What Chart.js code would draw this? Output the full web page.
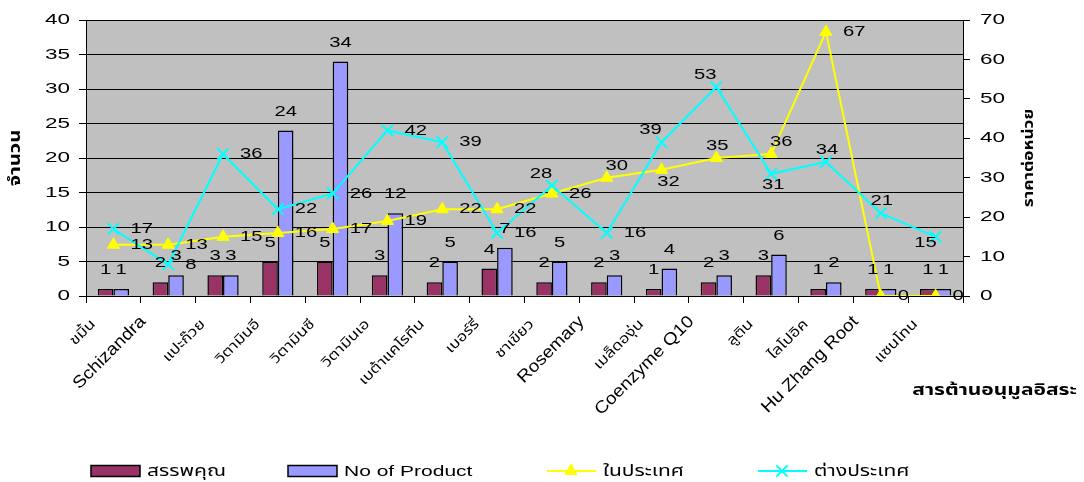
<!DOCTYPE html>
<html>
<head>
<meta charset="utf-8">
<script src="https://cdn.jsdelivr.net/npm/chart.js@4.4.1/dist/chart.umd.min.js"></script>
<style>
  html, body { margin: 0; padding: 0; background: #ffffff; overflow: hidden; }
  canvas { display: block; }
</style>
</head>
<body>
<canvas id="chart" width="1084" height="482"></canvas>
<script>
// Antioxidant supplements: number of claimed benefits, number of products, unit prices
const categories = ['ขมิ้น', 'Schizandra', 'แปะก๊วย', 'วิตามินอี', 'วิตามินซี', 'วิตามินเอ',
  'เบต้าแคโรทีน', 'เบอร์รี่', 'ชาเขียว', 'Rosemary', 'เมล็ดองุ่น', 'Coenzyme Q10',
  'ลูติน', 'ไลโปอิค', 'Hu Zhang Root', 'แซนโทน'];
const benefits       = [1, 2, 3, 5, 5, 3, 2, 4, 2, 2, 1, 2, 3, 1, 1, 1];
const productCounts  = [1, 3, 3, 24, 34, 12, 5, 7, 5, 3, 4, 3, 6, 2, 1, 1];
const domesticPrice  = [13, 13, 15, 16, 17, 19, 22, 22, 26, 30, 32, 35, 36, 67, 0, 0];
const importedPrice  = [17, 8, 36, 22, 26, 42, 39, 16, 28, 16, 39, 53, 31, 34, 21, 15];
const countTicks     = [0, 5, 10, 15, 20, 25, 30, 35, 40];
const priceTicks     = [0, 10, 20, 30, 40, 50, 60, 70];

const seriesNames   = ['สรรพคุณ', 'No of Product', 'ในประเทศ', 'ต่างประเทศ'];
const countTitle    = 'จำนวน';
const priceTitle    = 'ราคาต่อหน่วย';
const categoryTitle = 'สารต้านอนุมูลอิสระ';

// where each price label sits relative to its point
const domesticLabelSpot = ['r','r','r','r','r','r','r','r','r','tr','br','t','tr','r','r','r'];
const importedLabelSpot = ['r','r','r','r','r','r','r','r','tl','r','tl','tl','b','t','t','bl'];

const FONT = "'Liberation Sans', Arial, 'Noto Sans Thai', Tahoma, sans-serif";
const spots = {
  r:  [17, 0, 'left'],
  t:  [1, -12, 'center'],
  b:  [2, 11, 'center'],
  tl: [-11, -12, 'center'],
  tr: [10, -12, 'center'],
  br: [7, 12, 'center'],
  bl: [-10, 6, 'center']
};

// text drawn with a horizontal stretch (wide face)
function wideText(ctx, text, x, y, o) {
  ctx.save();
  ctx.translate(x, y);
  if (o.rotate) ctx.rotate(o.rotate);
  ctx.scale(o.sx || 1, 1);
  ctx.font = o.font;
  ctx.fillStyle = o.color || '#000';
  ctx.textAlign = o.align || 'center';
  ctx.textBaseline = o.baseline || 'middle';
  ctx.fillText(text, 0, 0);
  ctx.restore();
}

const plotBackground = {
  id: 'plotBackground',
  beforeDraw(chart) {
    const { ctx, chartArea: a } = chart;
    ctx.save();
    ctx.fillStyle = '#C0C0C0';
    ctx.fillRect(a.left, a.top, a.right - a.left, a.bottom - a.top);
    ctx.restore();
  }
};

const valueLabels = {
  id: 'valueLabels',
  afterDatasetsDraw(chart) {
    const ctx = chart.ctx;
    const numFont = '15px ' + FONT;
    chart.data.datasets.forEach((ds, di) => {
      const meta = chart.getDatasetMeta(di);
      meta.data.forEach((el, i) => {
        const txt = String(ds.data[i]);
        if (ds.type === 'bar') {
          wideText(ctx, txt, el.x, el.y - 19, { font: numFont, sx: 1.35 });
        } else {
          const s = spots[ds.labelSpots[i]];
          wideText(ctx, txt, el.x + s[0], el.y + s[1], { font: numFont, sx: 1.35, align: s[2] });
        }
      });
    });
  }
};

const axisText = {
  id: 'axisText',
  afterDraw(chart) {
    const ctx = chart.ctx;
    const y = chart.scales.y, y1 = chart.scales.y1, x = chart.scales.x;
    const tickFont = '15px ' + FONT;
    y.ticks.forEach(t => {
      wideText(ctx, String(t.value), 70, y.getPixelForValue(t.value), { font: tickFont, sx: 1.5, align: 'right' });
    });
    y1.ticks.forEach(t => {
      wideText(ctx, String(t.value), 980, y1.getPixelForValue(t.value), { font: tickFont, sx: 1.5, align: 'left' });
    });
    const thai = /[\u0E00-\u0E7F]/;
    categories.forEach((c, i) => {
      const px = x.getPixelForValue(i);
      if (thai.test(c)) {
        wideText(ctx, c, px - 20, 322, { font: '14px ' + FONT, sx: 1.2, align: 'right', rotate: -Math.PI / 4 });
      } else {
        wideText(ctx, c, px - 25, 319, { font: '17px ' + FONT, sx: 1.12, align: 'right', rotate: -Math.PI / 4 });
      }
    });
    wideText(ctx, countTitle, 16, 158, { font: 'bold 15px ' + FONT, sx: 1.35, rotate: -Math.PI / 2 });
    wideText(ctx, priceTitle, 1029, 158, { font: 'bold 14px ' + FONT, sx: 1.24, rotate: -Math.PI / 2 });
    wideText(ctx, categoryTitle, 1077, 391, { font: 'bold 15px ' + FONT, sx: 1.4, align: 'right' });
  }
};

const bottomLegend = {
  id: 'bottomLegend',
  afterDraw(chart) {
    const ctx = chart.ctx;
    const starts = [91, 288, 547, 758];
    const cy = 471;
    chart.data.datasets.forEach((ds, i) => {
      const x0 = starts[i];
      ctx.save();
      if (ds.type === 'bar') {
        ctx.fillStyle = ds.backgroundColor;
        ctx.fillRect(x0, cy - 5.5, 49, 11);
        ctx.strokeStyle = '#000';
        ctx.lineWidth = 1.5;
        ctx.strokeRect(x0, cy - 5.5, 49, 11);
      } else {
        ctx.strokeStyle = ds.borderColor;
        ctx.lineWidth = 2;
        ctx.beginPath();
        ctx.moveTo(x0, cy);
        ctx.lineTo(x0 + 49, cy);
        ctx.stroke();
        ctx.fillStyle = ds.backgroundColor;
        ctx.strokeStyle = ds.borderColor;
        ctx.lineWidth = ds.pointBorderWidth;
        Chart.helpers.drawPoint(ctx, {
          pointStyle: ds.pointStyle, radius: ds.pointRadius, rotation: 0,
          borderWidth: ds.pointBorderWidth
        }, x0 + 24, cy);
      }
      ctx.restore();
      wideText(ctx, ds.label, x0 + 56, cy + 1, { font: '15px ' + FONT, sx: 1.4, align: 'left' });
    });
  }
};

new Chart(document.getElementById('chart'), {
  type: 'bar',
  data: {
    labels: categories,
    datasets: [
      {
        type: 'bar', label: seriesNames[0], data: benefits, yAxisID: 'y', order: 2,
        backgroundColor: '#993366', borderColor: '#000000', borderWidth: 1.5,
        categoryPercentage: 0.57, barPercentage: 1.0
      },
      {
        type: 'bar', label: seriesNames[1], data: productCounts, yAxisID: 'y', order: 2,
        backgroundColor: '#9999FF', borderColor: '#000000', borderWidth: 1.5,
        categoryPercentage: 0.57, barPercentage: 1.0
      },
      {
        type: 'line', label: seriesNames[2], data: domesticPrice, yAxisID: 'y1', order: 1,
        borderColor: '#FFFF00', backgroundColor: '#FFFF00', borderWidth: 2,
        pointStyle: 'triangle', pointRadius: 7, pointBorderWidth: 1,
        pointBackgroundColor: '#FFFF00', pointBorderColor: '#FFFF00',
        tension: 0, labelSpots: domesticLabelSpot
      },
      {
        type: 'line', label: seriesNames[3], data: importedPrice, yAxisID: 'y1', order: 0,
        borderColor: '#00FFFF', backgroundColor: '#00FFFF', borderWidth: 2,
        pointStyle: 'crossRot', pointRadius: 8, pointBorderWidth: 2,
        pointBorderColor: '#00FFFF',
        tension: 0, labelSpots: importedLabelSpot
      }
    ]
  },
  options: {
    responsive: false,
    animation: false,
    devicePixelRatio: 1,
    layout: { padding: { top: 20, left: 0, right: 0, bottom: 0 } },
    plugins: { legend: { display: false }, tooltip: { enabled: false }, title: { display: false } },
    scales: {
      x: {
        type: 'category', offset: true,
        grid: { offset: true, drawOnChartArea: false, drawTicks: true, tickLength: 7, color: '#000000' },
        border: { display: true, color: '#000000', width: 1 },
        ticks: { display: false },
        afterFit: s => { s.height = 186; }
      },
      y: {
        position: 'left', min: 0, max: 40,
        grid: { color: '#000000', lineWidth: 1, tickLength: 7, drawTicks: true },
        border: { display: true, color: '#000000', width: 1 },
        ticks: { display: false, stepSize: 5 },
        afterBuildTicks: s => { s.ticks = countTicks.map(v => ({ value: v })); },
        afterFit: s => { s.width = 86; }
      },
      y1: {
        position: 'right', min: 0, max: 70,
        grid: { drawOnChartArea: false, tickLength: 7, color: '#000000' },
        border: { display: true, color: '#000000', width: 1 },
        ticks: { display: false, stepSize: 10 },
        afterBuildTicks: s => { s.ticks = priceTicks.map(v => ({ value: v })); },
        afterFit: s => { s.width = 121; }
      }
    }
  },
  plugins: [plotBackground, valueLabels, axisText, bottomLegend]
});
</script>
</body>
</html>
